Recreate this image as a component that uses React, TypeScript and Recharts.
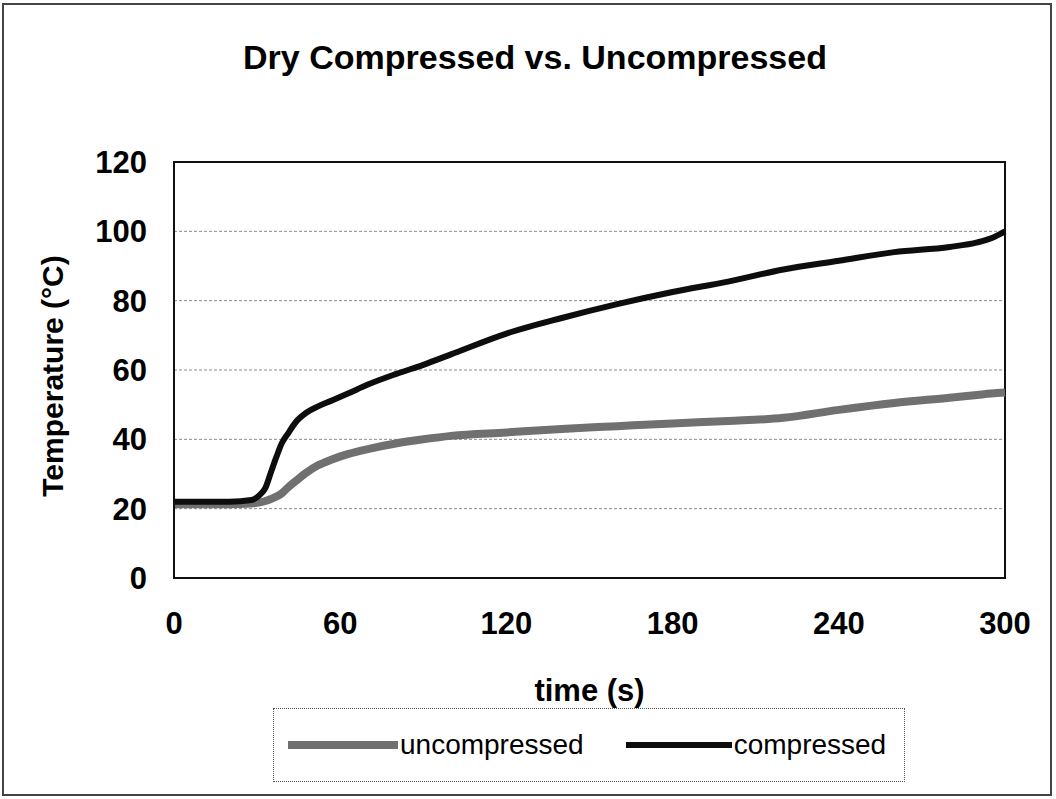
import React from 'react';
import {
  LineChart, Line, XAxis, YAxis, CartesianGrid, Legend, ReferenceArea, Label,
} from 'recharts';

const times = [0, 10, 20, 28, 31, 33, 35, 37, 39, 41, 44, 48, 52, 57, 63, 70, 80, 90, 100, 120, 140, 160, 180, 200, 220, 240, 260, 280, 290, 295, 300];
const compressed = [22, 22, 22, 22.5, 24, 26, 30.5, 35, 39, 41.5, 45, 47.8, 49.5, 51.2, 53.3, 55.8, 58.8, 61.5, 64.5, 70.5, 75, 79, 82.5, 85.5, 89, 91.5, 94, 95.5, 96.8, 98, 100];
const uncompressed = [21.3, 21.3, 21.3, 21.5, 21.8, 22.2, 22.8, 23.5, 24.5, 26, 28, 30.5, 32.5, 34.2, 35.8, 37.2, 38.8, 40, 41, 42, 43, 43.8, 44.6, 45.3, 46.2, 48.5, 50.5, 52, 52.8, 53.2, 53.5];
const xTicks = [0, 60, 120, 180, 240, 300];
const xMinorTicks = [10, 20, 30, 40, 50, 70, 80, 90, 100, 110, 130, 140, 150, 160, 170, 190, 200, 210, 220, 230, 250, 260, 270, 280, 290];
const yTicks = [0, 20, 40, 60, 80, 100, 120];

const data = times.map((t, i) => ({ t, uncompressed: uncompressed[i], compressed: compressed[i] }));

const FONT = '"Liberation Sans", Arial, sans-serif';
const tickStyle = { fill: '#000', fontSize: 31, fontWeight: 700, fontFamily: FONT };
const UNCOMP = '#707070';
const COMP = '#0d0d0d';

function YTitle(props: any) {
  const vb = props.viewBox;
  const cx = vb.x + 22;
  const cy = vb.y + vb.height / 2 + 6;
  return (
    <text x={cx} y={cy} transform={`rotate(-90 ${cx} ${cy})`} textAnchor="middle" dominantBaseline="central"
      style={{ fontSize: 30, fontWeight: 700, fontFamily: FONT, fill: '#000' }}>
      Temperature (°C)
    </text>
  );
}

function LegendBox() {
  const item = (name: string, color: string, w: number, sw: number, gap: number) => (
    <div style={{ display: 'flex', alignItems: 'center', marginRight: gap }}>
      <div style={{ width: w, height: sw, background: color }} />
      <span style={{ fontSize: 28, fontFamily: FONT, color: '#000', marginLeft: 2 }}>{name}</span>
    </div>
  );
  return (
    <div style={{
      width: 632, height: 74, border: '1px dotted #555', boxSizing: 'border-box',
      display: 'flex', alignItems: 'center', paddingLeft: 14,
    }}>
      {item('uncompressed', UNCOMP, 110, 8, 42)}
      {item('compressed', COMP, 106, 6, 0)}
    </div>
  );
}

export default function App() {
  return (
    <div style={{ position: 'relative', width: 1056, height: 799, background: '#fff' }}>
      <style>{'body{margin:0}'}</style>
      <div style={{
        position: 'absolute', left: 2, top: 3, width: 1050, height: 793,
        border: '2px solid #444', boxSizing: 'border-box', pointerEvents: 'none',
      }} />
      <div style={{
        position: 'absolute', left: 0, top: 38, width: 1070, textAlign: 'center',
        fontSize: 34, fontWeight: 700, fontFamily: FONT, color: '#000',
      }}>
        Dry Compressed vs. Uncompressed
      </div>
      <LineChart width={1056} height={799} data={data}
        margin={{ top: 162, right: 51, left: 30, bottom: 92 }}>
        <CartesianGrid vertical={false} stroke="#8a8a8a" strokeDasharray="3 2" strokeWidth={1} />
        <XAxis xAxisId="minor" dataKey="t" type="number" domain={[0, 300]} ticks={xMinorTicks}
          height={1} mirror tick={false} tickSize={5} axisLine={false}
          tickLine={{ stroke: '#333', strokeWidth: 1 }} />
        <XAxis dataKey="t" type="number" domain={[0, 300]} ticks={xTicks} height={129}
          tick={tickStyle} tickLine={false} tickSize={0} tickMargin={34}
          axisLine={{ stroke: '#111', strokeWidth: 2 }}>
          <Label value="time (s)" position="insideBottom" offset={6}
            style={{ fontSize: 31, fontWeight: 700, fontFamily: FONT, fill: '#000' }} />
        </XAxis>
        <YAxis type="number" domain={[0, 120]} ticks={yTicks} width={144}
          tick={tickStyle} tickLine={false} tickSize={0} tickMargin={27}
          axisLine={{ stroke: '#111', strokeWidth: 2 }}
          label={{ content: YTitle }} />
        <ReferenceArea xAxisId={0} x1={0} x2={300} y1={0} y2={120} fill="none" stroke="#111" strokeWidth={2} />
        <Line type="monotone" dataKey="uncompressed" name="uncompressed" stroke={UNCOMP} strokeWidth={8}
          dot={false} isAnimationActive={false} />
        <Line type="monotone" dataKey="compressed" name="compressed" stroke={COMP} strokeWidth={6}
          dot={false} isAnimationActive={false} />
        <Legend layout="vertical" verticalAlign="middle" align="center"
          wrapperStyle={{ position: 'absolute', left: 273, top: 708, width: 632 }}
          content={() => <LegendBox />} />
      </LineChart>
    </div>
  );
}
